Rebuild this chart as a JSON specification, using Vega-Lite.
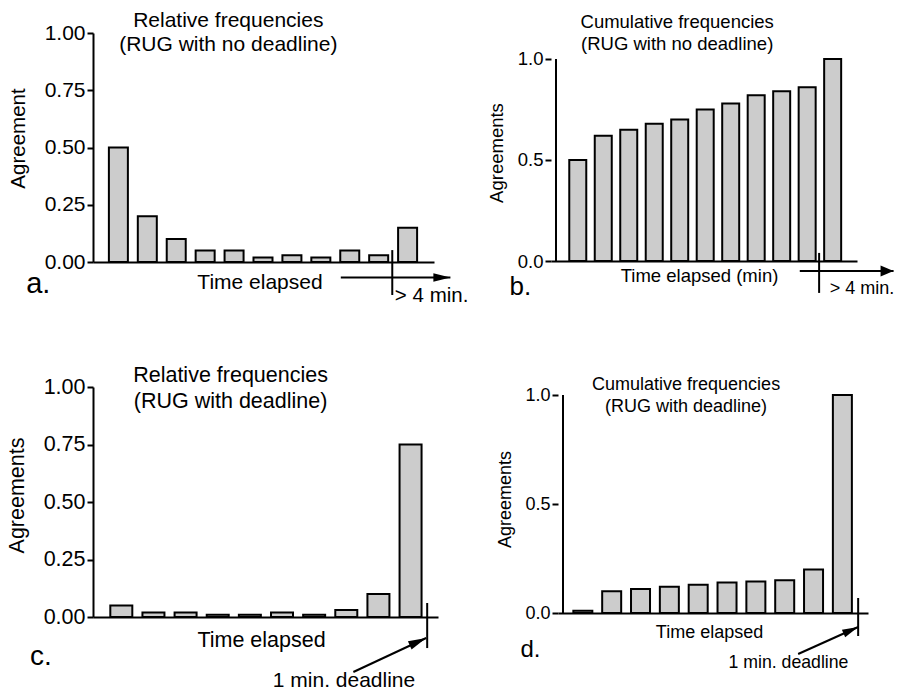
{
  "$schema": "https://vega.github.io/schema/vega-lite/v6.json",
  "padding": {"left": 6, "top": 10, "right": 0, "bottom": 0},
  "bounds": "flush",
  "spacing": 354,
  "datasets": {
    "a": [{"x":1,"y":0.5},{"x":2,"y":0.2},{"x":3,"y":0.1},{"x":4,"y":0.05},{"x":5,"y":0.05},{"x":6,"y":0.02},{"x":7,"y":0.03},{"x":8,"y":0.02},{"x":9,"y":0.05},{"x":10,"y":0.03},{"x":11,"y":0.15}],
    "b": [{"x":1,"y":0.5},{"x":2,"y":0.62},{"x":3,"y":0.65},{"x":4,"y":0.68},{"x":5,"y":0.7},{"x":6,"y":0.75},{"x":7,"y":0.78},{"x":8,"y":0.82},{"x":9,"y":0.84},{"x":10,"y":0.86},{"x":11,"y":1.0}],
    "c": [{"x":1,"y":0.05},{"x":2,"y":0.02},{"x":3,"y":0.02},{"x":4,"y":0.01},{"x":5,"y":0.01},{"x":6,"y":0.02},{"x":7,"y":0.01},{"x":8,"y":0.03},{"x":9,"y":0.1},{"x":10,"y":0.75}],
    "d": [{"x":1,"y":0.01},{"x":2,"y":0.1},{"x":3,"y":0.11},{"x":4,"y":0.12},{"x":5,"y":0.13},{"x":6,"y":0.14},{"x":7,"y":0.145},{"x":8,"y":0.15},{"x":9,"y":0.2},{"x":10,"y":1.0}],
    "a_notes": [
      {"kind":"title","x":4.8,"y":1.026,"text":"Relative frequencies"},
      {"kind":"title","x":4.8,"y":0.921,"text":"(RUG with no deadline)"},
      {"kind":"tick","x":10.47,"y":0.052,"x2":10.47,"y2":-0.144},
      {"kind":"arrow","x":8.69,"y":-0.068,"x2":12.48,"y2":-0.068},
      {"kind":"note","x":10.56,"y":-0.175,"text":"> 4 min."},
      {"kind":"letter","x":-2.188,"y":-0.135,"text":"a."}
    ],
    "b_notes": [
      {"kind":"title","x":4.9,"y":1.153,"text":"Cumulative frequencies"},
      {"kind":"title","x":4.9,"y":1.045,"text":"(RUG with no deadline)"},
      {"kind":"axis","x":0.146,"y":0,"x2":0.146,"y2":1},
      {"kind":"tick","x":10.469,"y":0.04,"x2":10.469,"y2":-0.158},
      {"kind":"arrow","x":9.71,"y":-0.0495,"x2":13.39,"y2":-0.0495},
      {"kind":"note","x":10.886,"y":-0.161,"text":"> 4 min."},
      {"kind":"letter","x":-1.676,"y":-0.168,"text":"b."}
    ],
    "c_notes": [
      {"kind":"title","x":4.4,"y":1.022,"text":"Relative frequencies"},
      {"kind":"title","x":4.4,"y":0.909,"text":"(RUG with deadline)"},
      {"kind":"tick","x":10.517,"y":0.0609,"x2":10.517,"y2":-0.135},
      {"kind":"arrow","x":8.22,"y":-0.239,"x2":10.486,"y2":-0.0913},
      {"kind":"note","x":5.713,"y":-0.304,"text":"1 min. deadline"},
      {"kind":"letter","x":-1.84,"y":-0.209,"text":"c."}
    ],
    "d_notes": [
      {"kind":"title","x":4.58,"y":1.023,"text":"Cumulative frequencies"},
      {"kind":"title","x":4.58,"y":0.922,"text":"(RUG with deadline)"},
      {"kind":"axis","x":0.312,"y":0,"x2":0.312,"y2":1},
      {"kind":"tick","x":10.547,"y":0.0688,"x2":10.547,"y2":-0.1055},
      {"kind":"arrow","x":8.466,"y":-0.188,"x2":10.547,"y2":-0.0642},
      {"kind":"note","x":6.05,"y":-0.252,"text":"1 min. deadline"},
      {"kind":"letter","x":-1.164,"y":-0.202,"text":"d."}
    ]
  },
  "vconcat": [
    {
      "bounds": "flush",
      "spacing": 117,
      "hconcat": [
        {
          "width": 341, "height": 229,
          "layer": [
            {"data":{"name":"a"},"mark":{"type":"bar","width":19,"fill":"#cccccc","stroke":"#000000","strokeWidth":2},
             "encoding":{
               "x":{"field":"x","type":"quantitative","scale":{"domain":[0.295,11.74],"nice":false,"zero":false},
                    "axis":{"title":"Time elapsed","labels":false,"ticks":false,"titleFontSize":21,"titleBaseline":"alphabetic","titlePadding":26,"titleX":166.5}},
               "y":{"field":"y","type":"quantitative","scale":{"domain":[0,1],"nice":false},
                    "axis":{"title":"Agreement","values":[0,0.25,0.5,0.75,1],"format":".2f","labelFontSize":21,"titleFontSize":20.5,"titlePadding":16,"titleY":105}}}},
            {"data":{"name":"a_notes"},"transform":[{"filter":"datum.kind==='tick'||datum.kind==='arrow'||datum.kind==='axis'"}],
             "mark":{"type":"rule","stroke":"#000000","strokeWidth":2},
             "encoding":{"x":{"field":"x","type":"quantitative"},"y":{"field":"y","type":"quantitative"},"x2":{"field":"x2"},"y2":{"field":"y2"}}},
            {"data":{"name":"a_notes"},"transform":[{"filter":"datum.kind==='arrow'"}],
             "mark":{"type":"point","shape":"M-2,-0.5L0,0L-2,0.5Z","filled":true,"fill":"#000000","opacity":1,"size":289,"strokeWidth":0},
             "encoding":{"x":{"field":"x2","type":"quantitative"},"y":{"field":"y2","type":"quantitative"}}},
            {"data":{"name":"a_notes"},"transform":[{"filter":"datum.kind==='title'"}],
             "mark":{"type":"text","align":"center","baseline":"alphabetic","fontSize":21,"color":"#000000"},
             "encoding":{"x":{"field":"x","type":"quantitative"},"y":{"field":"y","type":"quantitative"},"text":{"field":"text"}}},
            {"data":{"name":"a_notes"},"transform":[{"filter":"datum.kind==='note'"}],
             "mark":{"type":"text","align":"left","baseline":"alphabetic","fontSize":20.5,"color":"#000000"},
             "encoding":{"x":{"field":"x","type":"quantitative"},"y":{"field":"y","type":"quantitative"},"text":{"field":"text"}}},
            {"data":{"name":"a_notes"},"transform":[{"filter":"datum.kind==='letter'"}],
             "mark":{"type":"text","align":"left","baseline":"alphabetic","fontSize":29,"color":"#000000"},
             "encoding":{"x":{"field":"x","type":"quantitative"},"y":{"field":"y","type":"quantitative"},"text":{"field":"text"}}}
          ]
        },
        {
          "width": 306, "height": 228,
          "layer": [
            {"data":{"name":"b"},"mark":{"type":"bar","width":17,"fill":"#cccccc","stroke":"#000000","strokeWidth":2},
             "encoding":{
               "x":{"field":"x","type":"quantitative","scale":{"domain":[0.146,11.759],"nice":false,"zero":false},
                    "axis":{"title":"Time elapsed (min)","labels":false,"ticks":false,"titleFontSize":18.5,"titleBaseline":"alphabetic","titlePadding":20,"titleX":148}},
               "y":{"field":"y","type":"quantitative","scale":{"domain":[0,1.1287],"nice":false},
                    "axis":{"title":"Agreements","values":[0,0.5,1],"format":".1f","domain":false,"labelFontSize":18.5,"titleFontSize":18.5,"titlePadding":11,"titleY":119.5}}}},
            {"data":{"name":"b_notes"},"transform":[{"filter":"datum.kind==='tick'||datum.kind==='arrow'||datum.kind==='axis'"}],
             "mark":{"type":"rule","stroke":"#000000","strokeWidth":2},
             "encoding":{"x":{"field":"x","type":"quantitative"},"y":{"field":"y","type":"quantitative"},"x2":{"field":"x2"},"y2":{"field":"y2"}}},
            {"data":{"name":"b_notes"},"transform":[{"filter":"datum.kind==='arrow'"}],
             "mark":{"type":"point","shape":"M-2,-0.85L0,0L-2,0.85Z","filled":true,"fill":"#000000","opacity":1,"size":169,"strokeWidth":0},
             "encoding":{"x":{"field":"x2","type":"quantitative"},"y":{"field":"y2","type":"quantitative"}}},
            {"data":{"name":"b_notes"},"transform":[{"filter":"datum.kind==='title'"}],
             "mark":{"type":"text","align":"center","baseline":"alphabetic","fontSize":18.5,"color":"#000000"},
             "encoding":{"x":{"field":"x","type":"quantitative"},"y":{"field":"y","type":"quantitative"},"text":{"field":"text"}}},
            {"data":{"name":"b_notes"},"transform":[{"filter":"datum.kind==='note'"}],
             "mark":{"type":"text","align":"left","baseline":"alphabetic","fontSize":18,"color":"#000000"},
             "encoding":{"x":{"field":"x","type":"quantitative"},"y":{"field":"y","type":"quantitative"},"text":{"field":"text"}}},
            {"data":{"name":"b_notes"},"transform":[{"filter":"datum.kind==='letter'"}],
             "mark":{"type":"text","align":"left","baseline":"alphabetic","fontSize":26,"color":"#000000"},
             "encoding":{"x":{"field":"x","type":"quantitative"},"y":{"field":"y","type":"quantitative"},"text":{"field":"text"}}}
          ]
        }
      ]
    },
    {
      "bounds": "flush",
      "spacing": 120,
      "hconcat": [
        {
          "width": 345, "height": 230,
          "layer": [
            {"data":{"name":"c"},"mark":{"type":"bar","width":22,"fill":"#cccccc","stroke":"#000000","strokeWidth":2},
             "encoding":{
               "x":{"field":"x","type":"quantitative","scale":{"domain":[0.2749,10.698],"nice":false,"zero":false},
                    "axis":{"title":"Time elapsed","labels":false,"ticks":false,"titleFontSize":21.5,"titleBaseline":"alphabetic","titlePadding":29,"titleX":168}},
               "y":{"field":"y","type":"quantitative","scale":{"domain":[0,1],"nice":false},
                    "axis":{"title":"Agreements","values":[0,0.25,0.5,0.75,1],"format":".2f","labelFontSize":21.5,"titleFontSize":21.5,"titlePadding":15,"titleY":108}}}},
            {"data":{"name":"c_notes"},"transform":[{"filter":"datum.kind==='tick'||datum.kind==='arrow'||datum.kind==='axis'"}],
             "mark":{"type":"rule","stroke":"#000000","strokeWidth":2},
             "encoding":{"x":{"field":"x","type":"quantitative"},"y":{"field":"y","type":"quantitative"},"x2":{"field":"x2"},"y2":{"field":"y2"}}},
            {"data":{"name":"c_notes"},"transform":[{"filter":"datum.kind==='arrow'"}],
             "mark":{"type":"point","shape":"M-2,-0.5L0,0L-2,0.5Z","filled":true,"fill":"#000000","opacity":1,"size":324,"strokeWidth":0,"angle":-24},
             "encoding":{"x":{"field":"x2","type":"quantitative"},"y":{"field":"y2","type":"quantitative"}}},
            {"data":{"name":"c_notes"},"transform":[{"filter":"datum.kind==='title'"}],
             "mark":{"type":"text","align":"center","baseline":"alphabetic","fontSize":21.5,"color":"#000000"},
             "encoding":{"x":{"field":"x","type":"quantitative"},"y":{"field":"y","type":"quantitative"},"text":{"field":"text"}}},
            {"data":{"name":"c_notes"},"transform":[{"filter":"datum.kind==='note'"}],
             "mark":{"type":"text","align":"left","baseline":"alphabetic","fontSize":21,"color":"#000000"},
             "encoding":{"x":{"field":"x","type":"quantitative"},"y":{"field":"y","type":"quantitative"},"text":{"field":"text"}}},
            {"data":{"name":"c_notes"},"transform":[{"filter":"datum.kind==='letter'"}],
             "mark":{"type":"text","align":"left","baseline":"alphabetic","fontSize":28,"color":"#000000"},
             "encoding":{"x":{"field":"x","type":"quantitative"},"y":{"field":"y","type":"quantitative"},"text":{"field":"text"}}}
          ]
        },
        {
          "width": 310, "height": 226,
          "layer": [
            {"data":{"name":"d"},"mark":{"type":"bar","width":19,"fill":"#cccccc","stroke":"#000000","strokeWidth":2},
             "encoding":{
               "x":{"field":"x","type":"quantitative","scale":{"domain":[0.312,10.715],"nice":false,"zero":false},
                    "axis":{"title":"Time elapsed","labels":false,"ticks":false,"titleFontSize":18,"titleBaseline":"alphabetic","titlePadding":24,"titleX":151}},
               "y":{"field":"y","type":"quantitative","scale":{"domain":[0,1.0367],"nice":false},
                    "axis":{"title":"Agreements","values":[0,0.5,1],"format":".1f","domain":false,"labelFontSize":18,"titleFontSize":18,"titlePadding":10,"titleY":112}}}},
            {"data":{"name":"d_notes"},"transform":[{"filter":"datum.kind==='tick'||datum.kind==='arrow'||datum.kind==='axis'"}],
             "mark":{"type":"rule","stroke":"#000000","strokeWidth":2},
             "encoding":{"x":{"field":"x","type":"quantitative"},"y":{"field":"y","type":"quantitative"},"x2":{"field":"x2"},"y2":{"field":"y2"}}},
            {"data":{"name":"d_notes"},"transform":[{"filter":"datum.kind==='arrow'"}],
             "mark":{"type":"point","shape":"M-2,-0.5L0,0L-2,0.5Z","filled":true,"fill":"#000000","opacity":1,"size":256,"strokeWidth":0,"angle":-24},
             "encoding":{"x":{"field":"x2","type":"quantitative"},"y":{"field":"y2","type":"quantitative"}}},
            {"data":{"name":"d_notes"},"transform":[{"filter":"datum.kind==='title'"}],
             "mark":{"type":"text","align":"center","baseline":"alphabetic","fontSize":18,"color":"#000000"},
             "encoding":{"x":{"field":"x","type":"quantitative"},"y":{"field":"y","type":"quantitative"},"text":{"field":"text"}}},
            {"data":{"name":"d_notes"},"transform":[{"filter":"datum.kind==='note'"}],
             "mark":{"type":"text","align":"left","baseline":"alphabetic","fontSize":17.7,"color":"#000000"},
             "encoding":{"x":{"field":"x","type":"quantitative"},"y":{"field":"y","type":"quantitative"},"text":{"field":"text"}}},
            {"data":{"name":"d_notes"},"transform":[{"filter":"datum.kind==='letter'"}],
             "mark":{"type":"text","align":"left","baseline":"alphabetic","fontSize":24,"color":"#000000"},
             "encoding":{"x":{"field":"x","type":"quantitative"},"y":{"field":"y","type":"quantitative"},"text":{"field":"text"}}}
          ]
        }
      ]
    }
  ],
  "config": {
    "font": "Liberation Sans",
    "view": {"stroke": null},
    "axis": {"grid": false, "domainColor": "#000000", "domainWidth": 2, "tickColor": "#000000", "tickWidth": 2, "tickSize": 6,
             "labelColor": "#000000", "titleColor": "#000000", "labelFont": "Liberation Sans", "titleFont": "Liberation Sans",
             "titleFontWeight": "normal", "labelPadding": 2},
    "text": {"font": "Liberation Sans"}
  }
}
